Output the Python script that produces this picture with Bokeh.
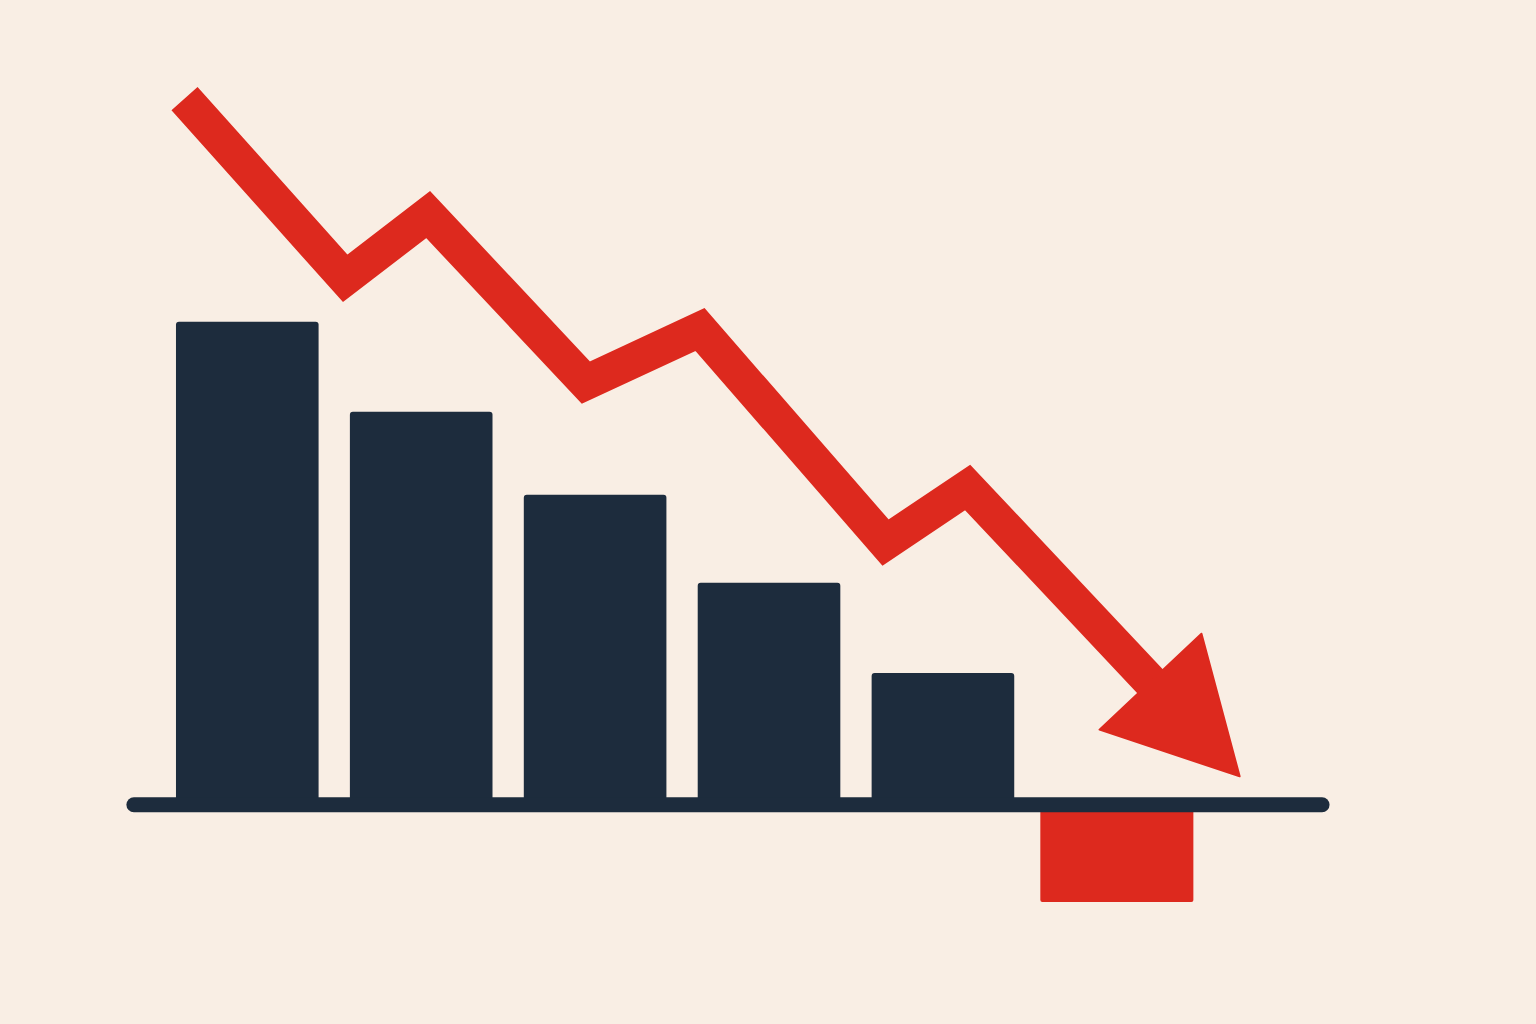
import numpy as np
from bokeh.plotting import figure
from bokeh.models import Range1d
from bokeh.embed import file_html
from bokeh.resources import INLINE

# ---- data ----
periods = [0, 1, 2, 3, 4, 5]
bar_values = [100.0, 81.4, 64.2, 46.0, 27.3, -20.1]
trend_x = [-0.361, 0.563, 1.040, 1.947, 2.603, 3.670, 4.142, 5.706]
trend_y = [146.2, 109.0, 122.2, 87.4, 98.4, 54.3, 65.7, 5.9]

BG = "#F9EEE4"
NAVY = "#1D2C3D"
RED = "#DD291E"

W, H = 1520, 1008
x0, x1 = -1.419, 7.321
y0, y1 = -42.17, 166.52

p = figure(width=W, height=H, output_backend="svg", toolbar_location=None,
           x_range=Range1d(x0, x1), y_range=Range1d(y0, y1),
           min_border=0, background_fill_color=BG, border_fill_color=BG,
           outline_line_color=None)
p.axis.visible = False
p.grid.visible = False

# bars
pos_x = [x for x, v in zip(periods, bar_values) if v >= 0]
pos_v = [v for v in bar_values if v >= 0]
neg_x = [x for x, v in zip(periods, bar_values) if v < 0]
neg_v = [v for v in bar_values if v < 0]
p.vbar(x=pos_x, top=pos_v, bottom=0, width=0.82, fill_color=NAVY,
       line_color=None, border_radius=3)
p.vbar(x=neg_x, top=0, bottom=neg_v, width=0.88, fill_color=RED,
       line_color=None, border_radius=2)

# baseline
p.line(x=[min(periods) - 0.652, max(periods) + 1.18], y=[0, 0],
       line_color=NAVY, line_width=15, line_cap="round")

# trend line with arrow head (computed in screen space from data)
sx = W / (x1 - x0)
sy = H / (y1 - y0)

def to_px(x, y):
    return np.array([(x - x0) * sx, (y - y0) * sy])

def to_data(v):
    return v[0] / sx + x0, v[1] / sy + y0

tip = to_px(trend_x[-1], trend_y[-1])
prev = to_px(trend_x[-2], trend_y[-2])
d = tip - prev
d = d / np.hypot(*d)
perp = np.array([-d[1], d[0]])
head_len, head_w = 130.0, 140.0
base = tip - head_len * d
shaft_end = base + 12 * d
c1 = base + perp * head_w / 2
c2 = base - perp * head_w / 2

lx = trend_x[:-1] + [to_data(shaft_end)[0]]
ly = trend_y[:-1] + [to_data(shaft_end)[1]]
p.line(x=lx, y=ly, line_color=RED, line_width=35, line_join="miter",
       line_cap="butt")

hx, hy = zip(*[to_data(tip), to_data(c1), to_data(c2)])
p.patch(x=list(hx), y=list(hy), fill_color=RED, line_color=RED,
        line_width=2, line_join="round")

html = file_html(p, INLINE)
html = html.replace("</head>",
                    f"<style>html, body {{margin:0 !important; padding:0; background-color:{BG} !important;}}</style></head>", 1)
open("out.html", "w").write(html)
